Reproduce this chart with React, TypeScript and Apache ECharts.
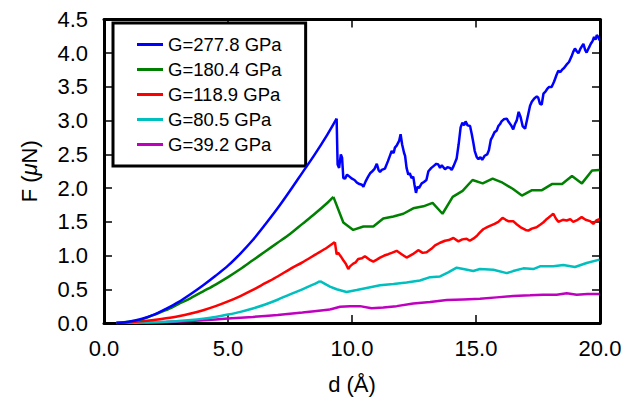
import React, { useEffect, useRef } from "react";
import * as echarts from "echarts";

const seriesNames = ["G=277.8 GPa", "G=180.4 GPa", "G=118.9 GPa", "G=80.5 GPa", "G=39.2 GPa"];
const seriesColors = ["#0000ff", "#008000", "#ff0000", "#00bfbf", "#bf00bf"];

const xTicks = [0, 5, 10, 15, 20];
const yTicks = [0, 0.5, 1, 1.5, 2, 2.5, 3, 3.5, 4, 4.5];

const g277 = [
  [0.5, 0], [1.0, 0.02], [1.5, 0.06], [2.0, 0.12], [2.5, 0.21], [3.0, 0.31], [3.5, 0.43], [4.0, 0.56],
  [4.5, 0.7], [5.0, 0.85], [5.5, 1.03], [6.0, 1.23], [6.5, 1.46], [7.0, 1.7], [7.5, 1.96], [8.0, 2.23],
  [8.5, 2.5], [9.0, 2.79], [9.38, 3.03], [9.42, 2.35], [9.48, 2.3], [9.55, 2.5], [9.6, 2.45], [9.65, 2.15],
  [9.72, 2.14], [9.8, 2.2], [9.9, 2.17], [10.0, 2.14], [10.1, 2.12], [10.2, 2.08], [10.3, 2.06], [10.4, 2.05],
  [10.46, 2.02], [10.55, 2.1], [10.65, 2.17], [10.73, 2.22], [10.82, 2.25], [10.9, 2.28], [11.0, 2.36],
  [11.07, 2.27], [11.13, 2.24], [11.2, 2.27], [11.33, 2.29], [11.45, 2.4], [11.55, 2.5], [11.6, 2.55],
  [11.68, 2.52], [11.73, 2.6], [11.8, 2.63], [11.9, 2.7], [11.96, 2.8], [12.02, 2.65], [12.1, 2.52],
  [12.14, 2.48], [12.2, 2.3], [12.27, 2.2], [12.33, 2.22], [12.4, 2.15], [12.47, 2.17], [12.52, 2.05],
  [12.58, 1.93], [12.64, 2.02], [12.7, 2.0], [12.81, 2.07], [12.9, 2.09], [13.0, 2.12], [13.08, 2.25],
  [13.2, 2.3], [13.3, 2.33], [13.4, 2.36], [13.48, 2.35], [13.55, 2.3], [13.62, 2.34], [13.75, 2.28],
  [13.85, 2.31], [13.95, 2.3], [14.02, 2.27], [14.1, 2.33], [14.22, 2.44], [14.3, 2.65], [14.38, 2.9],
  [14.45, 2.97], [14.52, 2.93], [14.58, 2.99], [14.66, 2.93], [14.76, 2.92], [14.83, 2.8], [14.89, 2.68],
  [14.95, 2.55], [15.03, 2.46], [15.1, 2.43], [15.18, 2.46], [15.25, 2.42], [15.35, 2.48], [15.45, 2.5],
  [15.52, 2.56], [15.6, 2.72], [15.66, 2.76], [15.75, 2.83], [15.83, 2.85], [15.9, 2.92], [15.97, 2.95],
  [16.03, 2.99], [16.12, 3.02], [16.24, 3.03], [16.32, 2.98], [16.42, 2.93], [16.5, 2.87], [16.57, 2.95],
  [16.64, 3.0], [16.72, 3.13], [16.8, 3.05], [16.88, 2.92], [16.98, 2.88], [17.08, 3.05], [17.18, 3.22],
  [17.25, 3.28], [17.35, 3.33], [17.45, 3.36], [17.51, 3.34], [17.58, 3.25], [17.65, 3.24], [17.72, 3.4],
  [17.8, 3.43], [17.87, 3.47], [17.95, 3.5], [18.05, 3.5], [18.15, 3.58], [18.25, 3.68], [18.32, 3.74],
  [18.4, 3.72], [18.48, 3.76], [18.55, 3.78], [18.65, 3.83], [18.75, 3.87], [18.85, 3.95], [18.92, 4.02],
  [18.99, 4.07], [19.06, 4.03], [19.13, 4.0], [19.2, 4.06], [19.28, 4.11], [19.33, 4.14], [19.4, 4.05],
  [19.46, 4.01], [19.55, 4.08], [19.63, 4.14], [19.7, 4.18], [19.76, 4.24], [19.82, 4.2], [19.87, 4.27],
  [19.93, 4.24], [19.98, 4.19],
];

const g180 = [
  [0.5, 0], [1.0, 0.02], [1.5, 0.05], [2.0, 0.12], [2.5, 0.19], [3.0, 0.28], [3.5, 0.37], [4.0, 0.47],
  [4.5, 0.57], [5.0, 0.68], [5.5, 0.8], [6.0, 0.93], [6.5, 1.06], [7.0, 1.19], [7.5, 1.32], [8.0, 1.47],
  [8.5, 1.62], [9.0, 1.78], [9.25, 1.87], [9.65, 1.49], [10.05, 1.38], [10.46, 1.43], [10.86, 1.43],
  [11.26, 1.55], [11.67, 1.58], [12.07, 1.62], [12.47, 1.7], [12.88, 1.73], [13.25, 1.78], [13.65, 1.62],
  [14.06, 1.87], [14.46, 1.96], [14.86, 2.12], [15.27, 2.07], [15.67, 2.14], [16.07, 2.08], [16.48, 1.99],
  [16.85, 1.89], [17.26, 1.97], [17.66, 1.97], [18.06, 2.06], [18.47, 2.06], [18.87, 2.18], [19.27, 2.07],
  [19.68, 2.26], [19.98, 2.27],
];

const g118 = [
  [0.5, 0], [1.0, 0.01], [1.5, 0.025], [2.0, 0.045], [2.5, 0.07], [3.0, 0.1], [3.5, 0.14], [4.0, 0.19],
  [4.5, 0.25], [5.0, 0.32], [5.5, 0.4], [6.0, 0.49], [6.5, 0.59], [7.0, 0.69], [7.5, 0.8], [8.0, 0.9],
  [8.5, 1.01], [9.0, 1.12], [9.31, 1.2], [9.38, 1.02], [9.45, 1.04], [9.52, 1.0], [9.58, 0.97], [9.65, 0.93],
  [9.75, 0.88], [9.85, 0.8], [9.92, 0.84], [10.05, 0.88], [10.15, 0.9], [10.25, 0.95], [10.4, 0.96],
  [10.52, 0.99], [10.7, 0.94], [10.86, 0.91], [11.0, 0.94], [11.13, 0.97], [11.3, 1.0], [11.46, 1.02],
  [11.6, 1.04], [11.8, 1.07], [12.0, 1.02], [12.2, 0.97], [12.45, 1.02], [12.67, 1.08], [12.85, 1.04],
  [13.01, 1.05], [13.2, 1.1], [13.35, 1.15], [13.55, 1.19], [13.75, 1.22], [13.9, 1.23], [14.09, 1.26],
  [14.29, 1.21], [14.45, 1.24], [14.62, 1.25], [14.75, 1.22], [14.89, 1.25], [15.03, 1.29], [15.15, 1.34],
  [15.29, 1.39], [15.45, 1.42], [15.56, 1.44], [15.75, 1.47], [15.9, 1.5], [16.07, 1.56], [16.2, 1.53],
  [16.3, 1.51], [16.5, 1.51], [16.65, 1.46], [16.84, 1.41], [17.0, 1.38], [17.11, 1.37], [17.25, 1.4],
  [17.44, 1.42], [17.6, 1.46], [17.71, 1.49], [17.82, 1.53], [17.92, 1.56], [18.05, 1.6], [18.12, 1.62],
  [18.22, 1.55], [18.32, 1.5], [18.5, 1.53], [18.66, 1.52], [18.8, 1.54], [18.92, 1.5], [19.1, 1.53],
  [19.26, 1.57], [19.42, 1.53], [19.6, 1.51], [19.73, 1.47], [19.85, 1.52], [19.98, 1.54],
];

const g80 = [
  [0.5, 0], [1.0, 0.002], [1.5, 0.006], [2.0, 0.012], [2.5, 0.02], [3.0, 0.03], [3.5, 0.045], [4.0, 0.065],
  [4.5, 0.09], [5.0, 0.125], [5.5, 0.165], [6.0, 0.215], [6.5, 0.275], [7.0, 0.345], [7.5, 0.425],
  [8.0, 0.5], [8.5, 0.58], [8.71, 0.62],
  [9.11, 0.54], [9.38, 0.5], [9.78, 0.46], [10.19, 0.49], [10.59, 0.52], [11.13, 0.56], [11.67, 0.58],
  [12.2, 0.6], [12.74, 0.63], [13.15, 0.68], [13.55, 0.69], [13.88, 0.75], [14.22, 0.82], [14.49, 0.8],
  [14.89, 0.77], [15.16, 0.8], [15.7, 0.79], [16.24, 0.74], [16.5, 0.77], [16.91, 0.81], [17.31, 0.8],
  [17.58, 0.84], [18.12, 0.84], [18.52, 0.86], [18.99, 0.83], [19.46, 0.89], [19.98, 0.94],
];

const g39 = [
  [0.5, 0], [1.0, 0.002], [2.0, 0.01], [3.0, 0.022], [4.0, 0.04], [5.0, 0.065], [6.0, 0.09], [7.0, 0.12],
  [8.0, 0.155], [9.11, 0.2], [9.52, 0.24], [9.92, 0.25], [10.32, 0.25], [10.79, 0.22], [11.26, 0.23],
  [11.8, 0.25], [12.47, 0.29], [13.15, 0.31], [13.82, 0.34], [14.49, 0.35], [15.16, 0.36], [15.83, 0.38],
  [16.5, 0.4], [17.18, 0.41], [17.71, 0.42], [18.25, 0.42], [18.66, 0.44], [19.06, 0.42], [19.5, 0.43],
  [19.98, 0.43],
];

const seriesData = [g277, g180, g118, g80, g39];
// number of points in the smooth loading (rising) part of each curve, up to the peak
const riseCount = [19, 19, 19, 18, 10];

const FONT = "'Liberation Sans', Arial, Helvetica, sans-serif";

export default function App() {
  const ref = useRef<HTMLDivElement>(null);
  useEffect(() => {
    if (!ref.current) return;
    const chart = echarts.init(ref.current, undefined, { renderer: "svg" });
    const fmt = (v: number) => v.toFixed(1);
    const axisLine = { show: true, onZero: false, lineStyle: { color: "#000", width: 3 } };
    const tick = { show: true, inside: true, length: 8, lineStyle: { color: "#000", width: 1.5 } };
    const series: any[] = [];
    seriesNames.forEach((name, i) => {
      const d = seriesData[i];
      const n = riseCount[i];
      const common = {
        name,
        type: "line",
        xAxisIndex: 0,
        yAxisIndex: 0,
        showSymbol: false,
        symbol: "none",
        color: seriesColors[i],
        lineStyle: { color: seriesColors[i], width: 2.5 },
        z: 10 - i,
      };
      series.push({ ...common, data: d.slice(0, n), smooth: 0.3 });
      series.push({ ...common, data: d.slice(n - 1) });
    });
    chart.setOption({
      animation: false,
      backgroundColor: "#fff",
      textStyle: { fontFamily: FONT },
      grid: { left: 104, right: 25, top: 19.5, bottom: 83, containLabel: false },
      legend: {
        orient: "vertical",
        left: 113,
        top: 23,
        data: seriesNames,
        icon: "rect",
        itemWidth: 26,
        itemHeight: 3,
        itemGap: 6,
        itemTextGap: 10,
        padding: [12, 24, 12, 24],
        borderColor: "#000",
        borderWidth: 3,
        backgroundColor: "#fff",
        textStyle: { fontSize: 18.5, color: "#000", fontFamily: FONT, lineHeight: 18 },
      },
      xAxis: [
        {
          type: "value",
          min: xTicks[0],
          max: xTicks[xTicks.length - 1],
          interval: 5,
          position: "bottom",
          axisLine,
          axisTick: tick,
          splitLine: { show: false },
          axisLabel: { fontSize: 22, color: "#000", margin: 14, formatter: fmt, fontFamily: FONT },
          name: "d (Å)",
          nameLocation: "middle",
          nameGap: 50,
          nameTextStyle: { fontSize: 22, color: "#000", fontFamily: FONT },
        },
        {
          type: "value",
          min: xTicks[0],
          max: xTicks[xTicks.length - 1],
          interval: 5,
          position: "top",
          axisLine,
          axisTick: tick,
          splitLine: { show: false },
          axisLabel: { show: false },
        },
      ],
      yAxis: [
        {
          type: "value",
          min: yTicks[0],
          max: yTicks[yTicks.length - 1],
          interval: 0.5,
          position: "left",
          axisLine,
          axisTick: tick,
          splitLine: { show: false },
          axisLabel: { fontSize: 22, color: "#000", margin: 16, formatter: fmt, fontFamily: FONT },
          name: "F ({i|μ}N)",
          nameLocation: "middle",
          nameGap: 64,
          nameRotate: 90,
          nameTextStyle: {
            fontSize: 22,
            color: "#000",
            fontFamily: FONT,
            rich: { i: { fontSize: 22, fontStyle: "italic", fontFamily: FONT, color: "#000" } },
          },
        },
        {
          type: "value",
          min: yTicks[0],
          max: yTicks[yTicks.length - 1],
          interval: 0.5,
          position: "right",
          axisLine,
          axisTick: tick,
          splitLine: { show: false },
          axisLabel: { show: false },
        },
      ],
      series,
    });
    return () => chart.dispose();
  }, []);
  return (
    <div
      ref={ref}
      style={{ position: "fixed", left: 0, top: 0, width: 625, height: 406, background: "#fff" }}
    />
  );
}
